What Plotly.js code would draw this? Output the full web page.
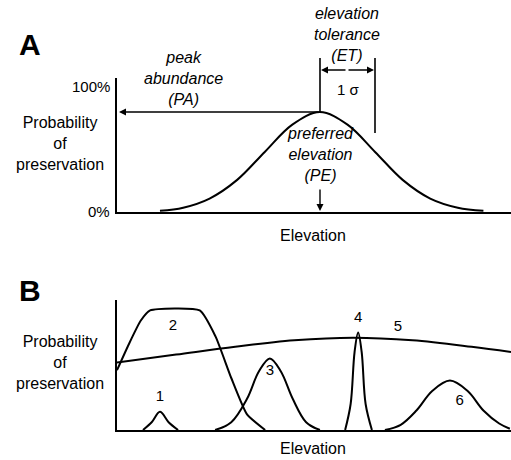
<!DOCTYPE html>
<html><head><script src="https://cdn.plot.ly/plotly-3.0.1.min.js"></script>
<style>body{margin:0}</style></head><body>
<div id="myDiv" style="width:511px;height:460px"></div>
<script>
// panel A: preservation curve, sampled by eye
var aX = [10.9, 16.8, 23.5, 30.5, 37.5, 44.5, 51.5, 58.5, 65.5, 72.5, 79.5, 86.5, 93];
var aY = [0.01, 0.034, 0.106, 0.253, 0.473, 0.688, 0.787, 0.688, 0.473, 0.253, 0.106, 0.034, 0.01];
// panel B: six taxa
var b1X = [6.6, 8.8, 10.9, 13.1, 15.5], b1Y = [0, 0.06, 0.14, 0.06, 0];
var b2X = [0, 3, 6, 8.4, 21, 25, 29, 33, 37.6], b2Y = [0.46, 0.66, 0.84, 0.92, 0.92, 0.72, 0.4, 0.12, 0];
var b3X = [24.9, 29, 33, 36, 38.8, 41.6, 44.6, 48, 51.5], b3Y = [0, 0.06, 0.24, 0.45, 0.55, 0.45, 0.24, 0.06, 0];
var b4X = [57.9, 59.3, 60.3, 61.2, 62.1, 63.1, 64.7], b4Y = [0, 0.2, 0.6, 0.75, 0.6, 0.2, 0];
var b5X = [0, 15, 30, 45, 60, 75, 90, 100], b5Y = [0.52, 0.58, 0.64, 0.69, 0.71, 0.69, 0.64, 0.6];
var b6X = [68, 72, 76, 80, 84.5, 89, 93, 97, 99.7], b6Y = [0, 0.04, 0.15, 0.3, 0.38, 0.3, 0.15, 0.05, 0.01];
var labelsB = ['1', '2', '3', '4', '5', '6'];
var labX = [10.9, 14.2, 38.8, 61.2, 71.3, 87], labY = [0.25, 0.8, 0.45, 0.86, 0.79, 0.22];

var W = 511, H = 460;
function px(x) { return x / W; }
function py(y) { return 1 - y / H; }
var blk = {color: 'black', width: 1.6};
function tr(x, y, xa, ya, sm) { return {x: x, y: y, xaxis: xa, yaxis: ya, mode: 'lines', line: {color: 'black', width: 2, shape: 'spline', smoothing: sm || 1}, hoverinfo: 'skip'}; }

var data = [tr(aX, aY, 'x', 'y'),
  tr(b1X, b1Y, 'x2', 'y2'), tr(b2X, b2Y, 'x2', 'y2', 0.5), tr(b3X, b3Y, 'x2', 'y2'),
  tr(b4X, b4Y, 'x2', 'y2'), tr(b5X, b5Y, 'x2', 'y2'), tr(b6X, b6Y, 'x2', 'y2'),
  {x: labX, y: labY, xaxis: 'x2', yaxis: 'y2', mode: 'text', text: labelsB, textfont: {family: 'Liberation Sans, Arial', size: 15, color: 'black'}, hoverinfo: 'skip'}];

var ax = {showgrid: false, zeroline: false, showticklabels: false, ticks: '', showline: true, linecolor: 'black', linewidth: 1.6, fixedrange: true};
var f = {family: 'Liberation Sans, Arial', size: 15, color: 'black'};
function t(x, y, s, o) { return Object.assign({xref: 'paper', yref: 'paper', x: px(x), y: py(y), xanchor: 'center', yanchor: 'middle', text: s, showarrow: false, font: f}, o || {}); }
function arr(x0, y0, x1, y1) { return {xref: 'paper', yref: 'paper', x: px(x1), y: py(y1), axref: 'pixel', ayref: 'pixel', ax: x0 - x1, ay: y0 - y1, text: '', showarrow: true, arrowhead: 2, arrowsize: 1, arrowwidth: 1.4, arrowcolor: 'black'}; }

var layout = {
  width: W, height: H, margin: {l: 0, r: 0, t: 0, b: 0}, showlegend: false,
  paper_bgcolor: 'white', plot_bgcolor: 'white', font: f,
  xaxis: Object.assign({domain: [px(117), 1], range: [0, 100], anchor: 'y'}, ax),
  yaxis: Object.assign({domain: [py(212), py(78)], range: [0, 1.055], anchor: 'x'}, ax),
  xaxis2: Object.assign({domain: [px(117), 1], range: [0, 100], anchor: 'y2'}, ax),
  yaxis2: Object.assign({domain: [py(430), py(300)], range: [0, 1], anchor: 'x2'}, ax),
  shapes: [
    {type: 'line', xref: 'paper', yref: 'paper', x0: px(320), x1: px(320), y0: py(58), y1: py(112), line: blk},
    {type: 'line', xref: 'paper', yref: 'paper', x0: px(375), x1: px(375), y0: py(58), y1: py(133), line: blk}
  ],
  annotations: [
    t(30, 45, '<b>A</b>', {font: {family: 'Liberation Sans', size: 30, color: 'black'}}),
    t(30, 290, '<b>B</b>', {font: {family: 'Liberation Sans', size: 30, color: 'black'}}),
    t(60, 143, 'Probability<br>of<br>preservation', {font: Object.assign({}, f, {size: 16})}),
    t(60, 362, 'Probability<br>of<br>preservation', {font: Object.assign({}, f, {size: 16})}),
    t(112, 86, '100%', {xanchor: 'right'}),
    t(112, 211, '0%', {xanchor: 'right'}),
    t(313, 235, 'Elevation', {font: Object.assign({}, f, {size: 16})}),
    t(313, 448, 'Elevation', {font: Object.assign({}, f, {size: 16})}),
    t(347, 34, '<i>elevation<br>tolerance<br>(ET)</i>', {font: Object.assign({}, f, {size: 16})}),
    t(183, 78, '<i>peak<br>abundance<br>(PA)</i>', {font: Object.assign({}, f, {size: 16})}),
    t(320, 155, '<i>preferred<br>elevation<br>(PE)</i>', {font: Object.assign({}, f, {size: 16})}),
    t(348, 90, '1 σ'),
    arr(320, 112, 119, 112),
    arr(320, 188, 320, 211),
    arr(347, 70, 321, 70),
    arr(347, 70, 374, 70)
  ]
};
Plotly.newPlot('myDiv', data, layout, {staticPlot: true});
</script></body></html>
